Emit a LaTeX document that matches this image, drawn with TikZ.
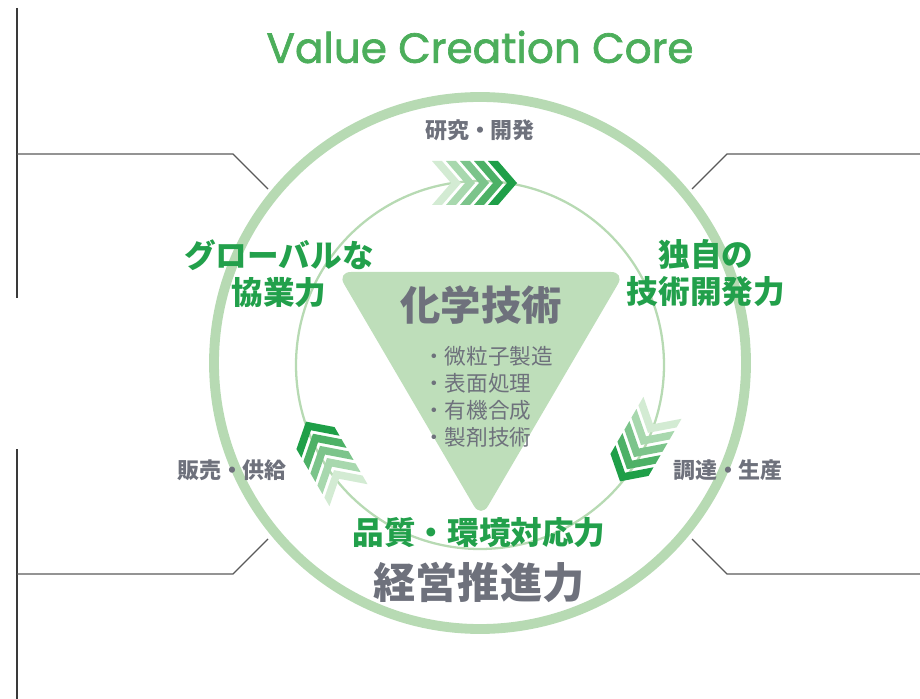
\documentclass[tikz,border=0pt]{standalone}
\usepackage{fontspec}
\setmainfont{Poppins}
\newfontfamily\titlefont{Poppins}[FakeBold=1.6]
\newfontfamily\jp{Noto Sans CJK JP}
\definecolor{ringgreen}{HTML}{B7DAB3}
\definecolor{trifill}{HTML}{BEDEBA}
\definecolor{leafgreen}{HTML}{22A04B}
\definecolor{titlegreen}{HTML}{4CAE5B}
\definecolor{textgray}{HTML}{6E717C}
\definecolor{bargray}{HTML}{3A3A3A}
\definecolor{linkgray}{HTML}{5A5A5A}
\definecolor{chevA}{HTML}{D3EBD3}
\definecolor{chevB}{HTML}{A8D8AE}
\definecolor{chevC}{HTML}{7CC48B}
\definecolor{chevD}{HTML}{4DB166}
\definecolor{chevE}{HTML}{1F9F48}

\tikzset{
    bar/.style={bargray, line width=1.7pt},
    link/.style={linkgray, line width=0.8pt},
    stage/.style={textgray, font=\jp\bfseries\fontsize{12.5}{14}\selectfont},
    power/.style={leafgreen, font=\jp\bfseries\fontsize{18}{21}\selectfont, align=center},
    chevrons/.pic={
        \foreach \k/\c in {0/chevA,1/chevB,2/chevC,3/chevD,4/chevE}
            \fill[\c, shift={(14*\k-14,0)}] (0,0) -- (-19,22) -- (-29,22) -- (-10,0)
                -- (-29,-22) -- (-19,-22) -- cycle;
    }
}

\begin{document}
\begin{tikzpicture}[x=0.02cm, y=-0.02cm]
        \useasboundingbox (0,0) rectangle (920,699);
        % frame ends
        \coordinate (barNWtop) at (17,8);
        \coordinate (barNWbot) at (17,298);
        \coordinate (barSWtop) at (17,449);
        \coordinate (barSWbot) at (17,699);
        \coordinate (ringNW) at (268,189);
        \coordinate (ringNE) at (692,189);
        \coordinate (ringSW) at (268,539);
        \coordinate (ringSE) at (692,539);
        \draw[bar] (barNWtop) -- (barNWbot);
        \draw[bar] (barSWtop) -- (barSWbot);
        \draw[link] (17,154) -- (233,154) -- (ringNW);
        \draw[link] (17,574) -- (233,574) -- (ringSW);
        \draw[link] (920,154) -- (727,154) -- (ringNE);
        \draw[link] (920,574) -- (727,574) -- (ringSE);

        % circles
        \draw[ringgreen, line width=5.6pt] (480,363) circle (266);
        \draw[ringgreen, line width=1.3pt] (480,365) circle (184);
        \fill[trifill, rounded corners=8pt] (337,272) -- (625,272) -- (481,518) -- cycle;

        % arrows
        \pic at (475,183) {chevrons};
        \pic[rotate=-120] at (641,445) {chevrons};
        \pic[rotate=120] at (327,458) {chevrons};

        % texts
        \node[titlegreen, font=\titlefont\fontsize{24}{27}\selectfont] (title) at (480,47) {Value Creation Core};
        \node[stage] (rnd) at (480,130) {研究・開発};
        \node[stage] (sales) at (232,470) {販売・供給};
        \node[stage] (supply) at (728,470) {調達・生産};
        \node[power] (global) at (279,274) {グローバルな\\協業力};
        \node[power] (own) at (706,273) {独自の\\技術開発力};
        \node[textgray, font=\jp\bfseries\fontsize{23}{26}\selectfont] (chem) at (481,305) {化学技術};
        \node[textgray, font=\jp\fontsize{12.3}{15.3}\selectfont, align=left, anchor=north west] (list) at (417,340)
            {・微粒子製造\\・表面処理\\・有機合成\\・製剤技術};
        \node[power] (quality) at (479,533) {品質・環境対応力};
        \node[textgray, font=\jp\bfseries\fontsize{24}{27}\selectfont] (mgmt) at (479,582) {経営推進力};
    \end{tikzpicture}
\end{document}
